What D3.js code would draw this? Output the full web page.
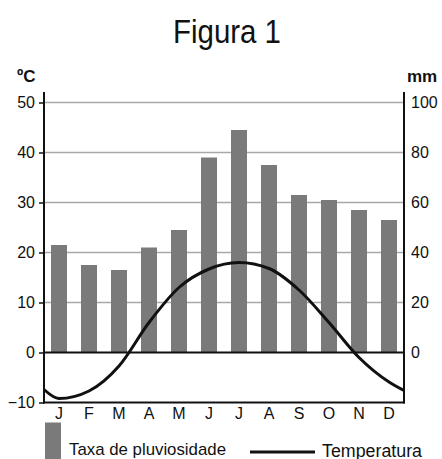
<!DOCTYPE html>
<html>
<head>
<meta charset="utf-8">
<script src="https://cdn.jsdelivr.net/npm/d3@7"></script>
<style>
  html, body { margin: 0; padding: 0; background: #fff; }
  svg { display: block; font-family: "Liberation Sans", Arial, sans-serif; }
</style>
</head>
<body>
<svg id="chart" width="442" height="459"></svg>
<script>
const months = ["J","F","M","A","M","J","J","A","S","O","N","D"];
const rainfall = [43, 35, 33, 42, 49, 78, 89, 75, 63, 61, 57, 53];
const temperature = [-9.2, -7.7, -2.7, 6, 13, 16.7, 18, 16.8, 12.5, 6, -1, -5.9];
const tempStartEdge = -7.4;
const tempEndEdge = -7.6;
const leftTicks = [-10, 0, 10, 20, 30, 40, 50];
const rightTicks = [0, 20, 40, 60, 80, 100];
const gridTicks = [10, 20, 30, 40, 50];

const svg = d3.select("#chart");
const L = 44, R = 404, TOP = 92, BOT = 402.5;

const x = d3.scaleBand().domain(d3.range(months.length)).range([L, R])
  .paddingInner(0.467).paddingOuter(0.2335);
const xl = d3.scaleLinear().domain([-0.5, months.length - 0.5]).range([L, R]);
const y = d3.scaleLinear().domain([-10, 50]).range([BOT, 102.5]);
const yR = d3.scaleLinear().domain([-20, 100]).range([BOT, 102.5]);

// Title
svg.append("text").attr("x", 227).attr("y", 43).attr("text-anchor", "middle")
  .attr("font-size", 33).attr("textLength", 108).attr("lengthAdjust", "spacingAndGlyphs")
  .attr("fill", "#111").text("Figura 1");

// Unit labels
svg.append("text").attr("x", 17).attr("y", 82).attr("font-size", 17).attr("font-weight", "bold")
  .attr("fill", "#111").text("ºC");
svg.append("text").attr("x", 407).attr("y", 82).attr("font-size", 17).attr("font-weight", "bold")
  .attr("fill", "#111").text("mm");

// Gridlines
svg.append("g").selectAll("line").data(gridTicks).join("line")
  .attr("x1", L).attr("x2", R).attr("y1", d => y(d)).attr("y2", d => y(d))
  .attr("stroke", "#a8a8a8").attr("stroke-width", 1.5);

// Bars
svg.append("g").selectAll("rect").data(rainfall).join("rect")
  .attr("x", (d, i) => x(i)).attr("width", x.bandwidth())
  .attr("y", d => yR(d)).attr("height", d => yR(0) - yR(d))
  .attr("fill", "#7a7a7a");

// Zero line
svg.append("line").attr("x1", L).attr("x2", R).attr("y1", y(0)).attr("y2", y(0))
  .attr("stroke", "#111").attr("stroke-width", 2);

// Temperature line
const pts = [[-0.5, tempStartEdge]]
  .concat(temperature.map((t, i) => [i, t]))
  .concat([[months.length - 0.5, tempEndEdge]]);
svg.append("path").datum(pts)
  .attr("d", d3.line().x(d => xl(d[0])).y(d => y(d[1])).curve(d3.curveMonotoneX))
  .attr("fill", "none").attr("stroke", "#111").attr("stroke-width", 3);

// Left axis
const gL = svg.append("g").attr("transform", `translate(${L},0)`)
  .call(d3.axisLeft(y).tickValues(leftTicks).tickSize(5).tickPadding(4).tickFormat(d => d < 0 ? "\u2212" + Math.abs(d) : d));
gL.select(".domain").remove();
gL.selectAll(".tick line").attr("stroke", "#111").attr("stroke-width", 1.5);
gL.selectAll(".tick text").attr("font-size", 16).attr("fill", "#111")
  .attr("font-family", "Liberation Sans, Arial, sans-serif");
svg.append("line").attr("x1", L).attr("x2", L).attr("y1", TOP).attr("y2", BOT + 1)
  .attr("stroke", "#111").attr("stroke-width", 2);

// Right axis
const gR = svg.append("g").attr("transform", `translate(${R},0)`)
  .call(d3.axisRight(yR).tickValues(rightTicks).tickSize(0).tickPadding(7));
gR.select(".domain").remove();
gR.selectAll(".tick text").attr("font-size", 16).attr("fill", "#111")
  .attr("font-family", "Liberation Sans, Arial, sans-serif");
svg.append("line").attr("x1", R).attr("x2", R).attr("y1", TOP).attr("y2", BOT + 1)
  .attr("stroke", "#111").attr("stroke-width", 2);

// Bottom axis
svg.append("line").attr("x1", L - 1).attr("x2", R + 1).attr("y1", BOT).attr("y2", BOT)
  .attr("stroke", "#111").attr("stroke-width", 2);
const gB = svg.append("g").attr("transform", `translate(0,${BOT})`)
  .call(d3.axisBottom(x).tickSize(0).tickPadding(5).tickFormat(i => months[i]));
gB.select(".domain").remove();
gB.selectAll(".tick text").attr("font-size", 16).attr("fill", "#111")
  .attr("font-family", "Liberation Sans, Arial, sans-serif");

// Legend
svg.append("rect").attr("x", 45).attr("y", 422.5).attr("width", 16).attr("height", 40).attr("fill", "#7a7a7a");
svg.append("text").attr("x", 69).attr("y", 455).attr("font-size", 17)
  .attr("textLength", 157).attr("lengthAdjust", "spacingAndGlyphs")
  .attr("fill", "#111").text("Taxa de pluviosidade");
svg.append("line").attr("x1", 250).attr("x2", 315).attr("y1", 452).attr("y2", 452)
  .attr("stroke", "#111").attr("stroke-width", 3);
svg.append("text").attr("x", 322).attr("y", 456.5).attr("font-size", 17.5)
  .attr("textLength", 100).attr("lengthAdjust", "spacingAndGlyphs")
  .attr("fill", "#111").text("Temperatura");
</script>
</body>
</html>
